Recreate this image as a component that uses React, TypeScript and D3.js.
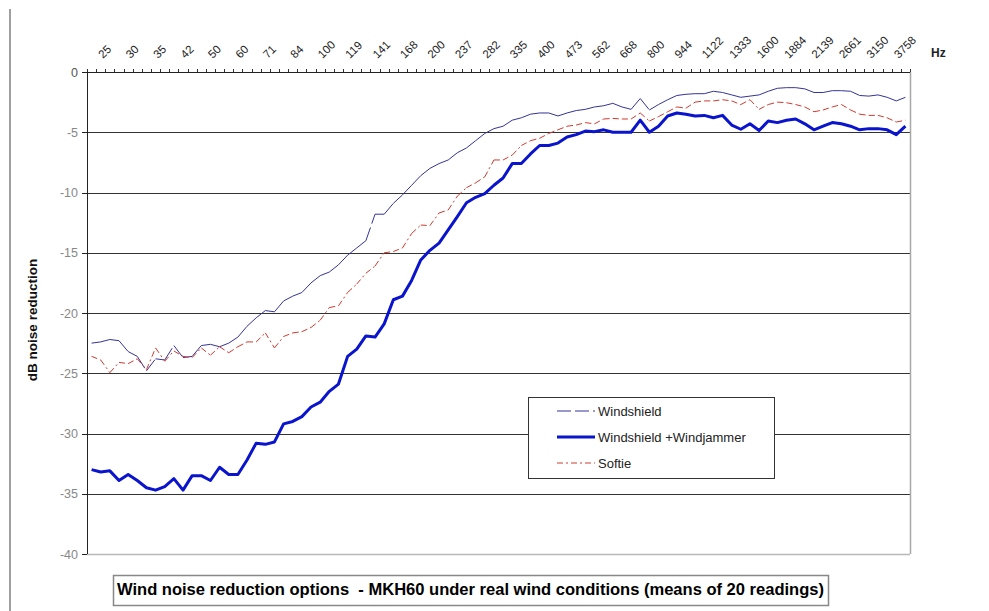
import React from 'react';
import * as d3 from 'd3';

// Frequency tick labels (Hz) – one label every third 1/12-octave category
const tickLabels = ['25','30','35','42','50','60','71','84','100','119','141','168','200','237','282','335','400','473','562','668','800','944','1122','1333','1600','1884','2139','2661','3150','3758'];

const yTicks = [0, -5, -10, -15, -20, -25, -30, -35, -40];

const seriesNames = ['Windshield', 'Windshield +Windjammer', 'Softie'];

const windshield = [
  -22.5, -22.4, -22.2, -22.3, -23.2, -23.6, -24.8, -23.8, -23.9, -22.7,
  -23.7, -23.6, -22.7, -22.6, -22.8, -22.5, -22.0, -21.1, -20.4, -19.8,
  -19.9, -19.0, -18.6, -18.3, -17.5, -16.9, -16.6, -16.0, -15.2, -14.6,
  -14.0, -11.8, -11.8, -10.9, -10.2, -9.4, -8.6, -8.0, -7.6, -7.3,
  -6.7, -6.3, -5.7, -5.1, -4.7, -4.5, -4.0, -3.8, -3.5, -3.4,
  -3.4, -3.65, -3.4, -3.2, -3.1, -2.9, -2.8, -2.6, -2.9, -3.1,
  -2.2, -3.15, -2.7, -2.3, -1.95, -1.85, -1.8, -1.8, -1.6, -1.7,
  -1.9, -2.1, -2.0, -1.9, -1.6, -1.35, -1.3, -1.3, -1.4, -1.7,
  -1.7, -1.55, -1.55, -1.6, -1.95, -2.0, -1.9, -2.1, -2.4, -2.1,
];

const windjammer = [
  -33.0, -33.2, -33.1, -33.9, -33.4, -33.9, -34.5, -34.7, -34.4, -33.75,
  -34.7, -33.5, -33.5, -33.9, -32.8, -33.4, -33.4, -32.2, -30.8, -30.9,
  -30.7, -29.2, -29.0, -28.6, -27.8, -27.4, -26.5, -25.9, -23.6, -23.0,
  -21.9, -22.0, -20.9, -18.9, -18.6, -17.3, -15.6, -14.8, -14.2, -13.1,
  -12.0, -10.85, -10.4, -10.1, -9.4, -8.8, -7.6, -7.6, -6.8, -6.1,
  -6.1, -5.9, -5.4, -5.2, -4.9, -4.95, -4.8, -5.0, -5.0, -5.0,
  -4.0, -5.0, -4.5, -3.65, -3.4, -3.5, -3.65, -3.6, -3.8, -3.6,
  -4.4, -4.75, -4.3, -4.85, -4.07, -4.2, -4.0, -3.9, -4.3, -4.8,
  -4.5, -4.2, -4.3, -4.5, -4.8, -4.7, -4.7, -4.8, -5.2, -4.5,
];

const softie = [
  -23.6, -23.9, -24.95, -24.1, -24.2, -23.8, -24.7, -22.9, -24.0, -23.15,
  -23.6, -23.7, -22.9, -23.5, -22.8, -23.3, -22.8, -22.4, -22.4, -21.65,
  -22.9, -21.95, -21.65, -21.55, -21.2, -20.6, -19.55, -19.4, -18.3, -17.6,
  -16.7, -16.1, -15.0, -14.9, -14.6, -13.4, -12.7, -12.75, -11.7, -11.45,
  -10.3, -9.6, -9.2, -8.7, -7.3, -7.3, -6.9, -6.1, -5.7, -5.5,
  -5.1, -4.8, -4.5, -4.4, -4.2, -4.3, -3.9, -3.85, -3.9, -3.9,
  -3.4, -4.07, -3.7, -3.3, -2.9, -3.0, -2.5, -2.4, -2.4, -2.3,
  -2.4, -2.7, -2.3, -3.1, -2.7, -2.5, -2.55, -2.7, -2.9, -3.3,
  -3.15, -2.9, -2.7, -3.15, -3.5, -3.6, -3.6, -3.8, -4.15, -4.0,
];

const FONT = '"Liberation Sans", Arial, Helvetica, sans-serif';

export default function App() {
  const W = 989, H = 611;
  const left = 87, right = 910, top = 72, bottom = 554;
  const n = windshield.length;

  const x = d3.scaleBand<number>().domain(d3.range(n)).range([left, right]).paddingInner(0).paddingOuter(0);
  const cx = (i: number) => (x(i) as number) + x.bandwidth() / 2;
  const y = d3.scaleLinear().domain([-40, 0]).range([bottom, top]);
  const line = d3.line<[number, number]>().x(d => cx(d[0])).y(d => y(d[1]));

  const series = [
    { name: seriesNames[0], values: windshield, color: '#333399', width: 1, dash: '14,4' },
    { name: seriesNames[1], values: windjammer, color: '#0a14cc', width: 3, dash: '' },
    { name: seriesNames[2], values: softie, color: '#d03a30', width: 1, dash: '6,3,2,3' },
  ];

  // Excel restarts the dash pattern on every segment
  const segments = (vals: number[]) =>
    d3.range(vals.length - 1).map(i => line([[i, vals[i]], [i + 1, vals[i + 1]]]) as string);

  const boundaries = d3.range(n + 1).map(i => (i < n ? (x(i) as number) : right));

  const legendX = 528.5, legendY = 397.5, legendW = 246, legendH = 81;
  const legendRows = [411, 437, 463];

  return (
    <svg width={W} height={H} style={{ position: 'absolute', left: 0, top: 0, background: '#fff' }} fontFamily={FONT}>
      <rect x={0} y={0} width={W} height={H} fill="#fff" />
      {/* left frame line */}
      <line x1={10} x2={10} y1={9} y2={H} stroke="#a0a0a0" strokeWidth={2} />

      {/* gridlines */}
      {yTicks.filter(t => t !== 0 && t !== -40).map(t => (
        <line key={'g' + t} x1={left} x2={right} y1={Math.round(y(t)) + 0.5} y2={Math.round(y(t)) + 0.5} stroke="#333" strokeWidth={1} />
      ))}
      {/* plot border (right/bottom) */}
      <line x1={right + 0.5} x2={right + 0.5} y1={top} y2={bottom} stroke="#a8a8a8" strokeWidth={1.5} />
      <line x1={left} x2={right} y1={bottom + 0.5} y2={bottom + 0.5} stroke="#b8b8b8" strokeWidth={1.5} />

      {/* y axis */}
      <line x1={left + 0.5} x2={left + 0.5} y1={top} y2={bottom} stroke="#222" strokeWidth={1} />
      {yTicks.map(t => (
        <g key={'yt' + t}>
          <line x1={left - 5} x2={left} y1={Math.round(y(t)) + 0.5} y2={Math.round(y(t)) + 0.5} stroke="#222" />
          <text x={78} y={y(t) + 4.5} textAnchor="end" fontSize={12.5} fill={t === 0 ? '#555' : '#888'}>{t}</text>
        </g>
      ))}
      <text transform={`translate(37,320) rotate(-90)`} textAnchor="middle" fontSize={13.5} fontWeight="bold" fill="#111">dB noise reduction</text>

      {/* x axis on top */}
      <line x1={left} x2={right} y1={top + 0.5} y2={top + 0.5} stroke="#222" strokeWidth={1} />
      {boundaries.map((bx, i) => (
        <line key={'xt' + i} x1={Math.round(bx) + 0.5} x2={Math.round(bx) + 0.5} y1={top - 3} y2={top} stroke="#333" />
      ))}
      {tickLabels.map((lab, k) => (
        <text key={'xl' + k} transform={`translate(${cx(k * 3) + 11.5},59) rotate(-45)`} fontSize={11.5} fill="#222">{lab}</text>
      ))}
      <text x={931} y={57} fontSize={12} fontWeight="bold" fill="#222">Hz</text>

      {/* series */}
      {series.map(s => (
        <g key={s.name} fill="none" stroke={s.color} strokeWidth={s.width} strokeLinejoin="round" strokeDasharray={s.dash || undefined}>
          {s.dash
            ? segments(s.values).map((d, i) => <path key={i} d={d} />)
            : <path d={line(s.values.map((v, i) => [i, v] as [number, number])) as string} />}
        </g>
      ))}

      {/* legend */}
      <rect x={legendX} y={legendY} width={legendW} height={legendH} fill="#fff" stroke="#333" strokeWidth={1} />
      {series.map((s, i) => (
        <g key={'lg' + i}>
          <line x1={557} x2={595} y1={legendRows[i]} y2={legendRows[i]} stroke={s.color} strokeWidth={s.width} strokeDasharray={s.dash || undefined} />
          <text x={598} y={legendRows[i] + 4.5} fontSize={13} fill="#222">{s.name}</text>
        </g>
      ))}

      {/* title box */}
      <rect x={113.5} y={575.5} width={715} height={30} fill="#fff" stroke="#888" strokeWidth={1.5} />
      <text x={117} y={595} fontSize={16} fontWeight="bold" fill="#000" textLength={707} lengthAdjust="spacingAndGlyphs" style={{ whiteSpace: 'pre' }}>Wind noise reduction options  - MKH60 under real wind conditions (means of 20 readings)</text>
    </svg>
  );
}
